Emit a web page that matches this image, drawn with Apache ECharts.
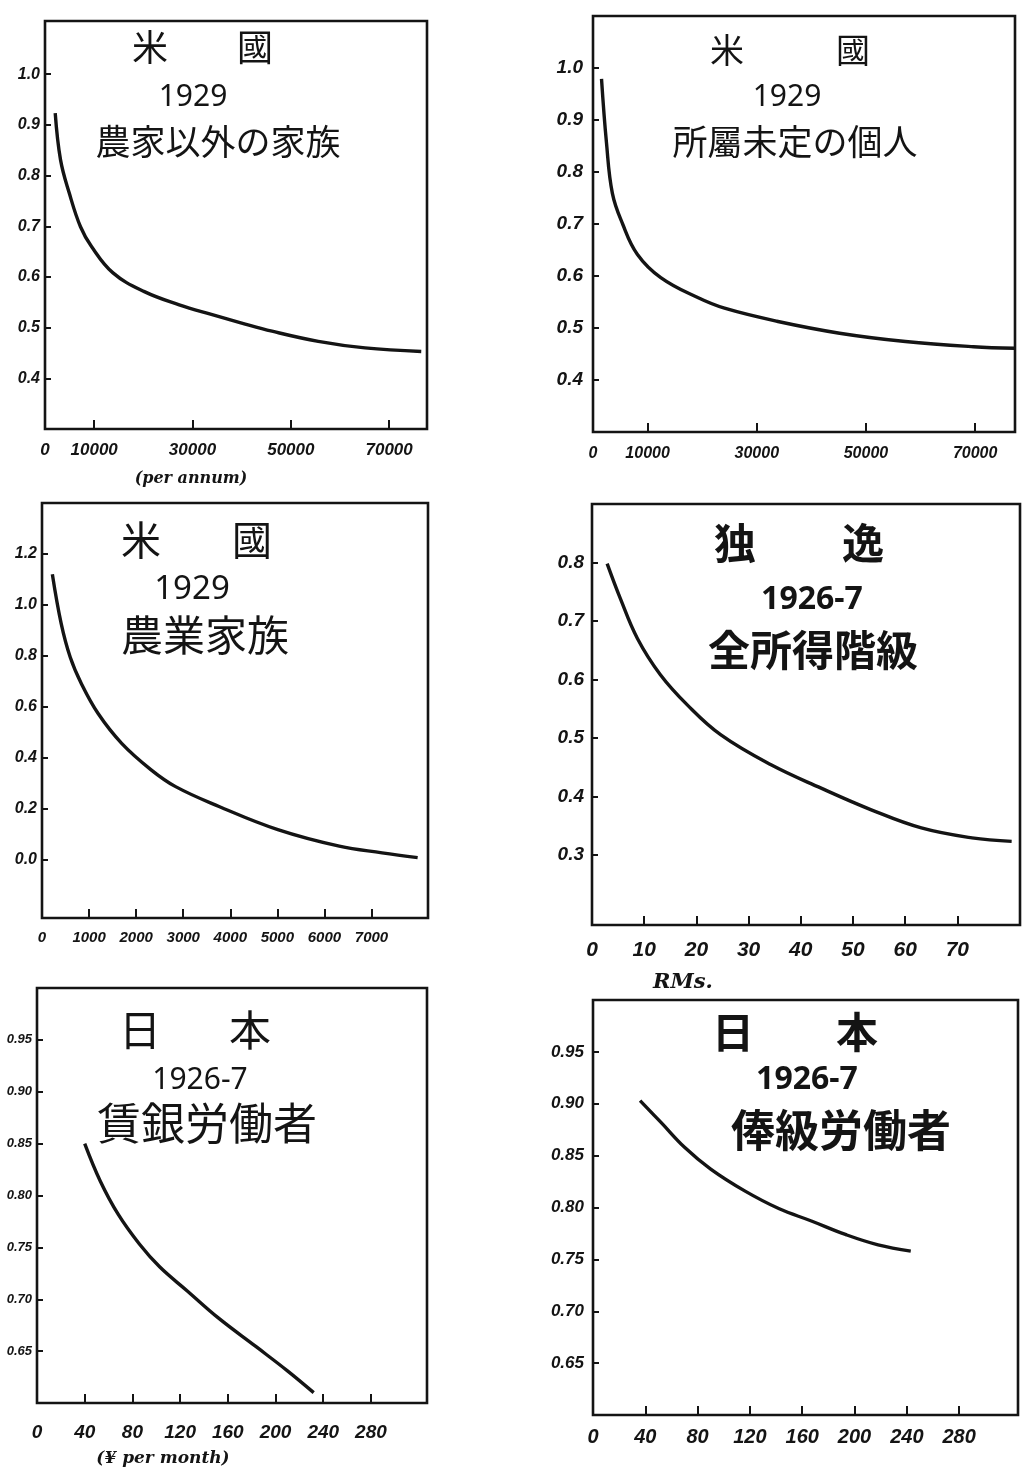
<!DOCTYPE html>
<html><head><meta charset="utf-8">
<script src="https://cdn.jsdelivr.net/npm/echarts@6/dist/echarts.min.js"></script>
<style>html,body{margin:0;padding:0;background:#fff}#c{width:1031px;height:1482px}</style>
</head><body><div id="c"></div>
<script>
// ---- Data ----
// Panel 1: USA 1929, non-farm families (income per annum)
const p1X = [2080, 3160, 4950, 7220, 9460, 13830, 20210, 27300, 33830, 40000, 46170, 55580, 65100, 76530];
const p1Y = [0.923, 0.831, 0.765, 0.699, 0.660, 0.608, 0.571, 0.545, 0.526, 0.509, 0.493, 0.473, 0.460, 0.453];
const p1XTicks = [10000, 30000, 50000, 70000];
const p1XLabels = [0, 10000, 30000, 50000, 70000];
const p1YTicks = [0.4, 0.5, 0.6, 0.7, 0.8, 0.9, 1.0];

// Panel 2: USA 1929, unattached individuals
const p2X = [1560, 2470, 3550, 5430, 8110, 12410, 19280, 24090, 33670, 45170, 57230, 69680, 77160];
const p2Y = [0.979, 0.856, 0.759, 0.700, 0.642, 0.597, 0.558, 0.538, 0.513, 0.490, 0.474, 0.464, 0.461];
const p2XTicks = [10000, 30000, 50000, 70000];
const p2XLabels = [0, 10000, 30000, 50000, 70000];
const p2YTicks = [0.4, 0.5, 0.6, 0.7, 0.8, 0.9, 1.0];

// Panel 3: USA 1929, farm families
const p3X = [220, 409, 600, 837, 1192, 1692, 2318, 2838, 3760, 5010, 6315, 7224, 7980];
const p3Y = [1.120, 0.925, 0.794, 0.690, 0.573, 0.456, 0.352, 0.286, 0.208, 0.117, 0.052, 0.026, 0.007];
const p3XTicks = [1000, 2000, 3000, 4000, 5000, 6000, 7000];
const p3XLabels = [0, 1000, 2000, 3000, 4000, 5000, 6000, 7000];
const p3YTicks = [0.0, 0.2, 0.4, 0.6, 0.8, 1.0, 1.2];

// Panel 4: Germany 1926-7, all income classes (RMs.)
const p4X = [2.9, 5.4, 8.7, 13.1, 18.3, 24.7, 34.3, 43.9, 53.5, 63.1, 72.8, 80.4];
const p4Y = [0.798, 0.739, 0.670, 0.608, 0.556, 0.505, 0.454, 0.414, 0.377, 0.346, 0.329, 0.323];
const p4XTicks = [10, 20, 30, 40, 50, 60, 70];
const p4XLabels = [0, 10, 20, 30, 40, 50, 60, 70];
const p4YTicks = [0.3, 0.4, 0.5, 0.6, 0.7, 0.8];

// Panel 5: Japan 1926-7, wage workers (yen per month)
const p5X = [40, 53, 68, 86, 103, 126, 152, 184, 210, 232];
const p5Y = [0.850, 0.814, 0.782, 0.753, 0.731, 0.708, 0.682, 0.654, 0.631, 0.610];
const p5XTicks = [40, 80, 120, 160, 200, 240, 280];
const p5XLabels = [0, 40, 80, 120, 160, 200, 240, 280];
const p5YTicks = [0.65, 0.70, 0.75, 0.80, 0.85, 0.90, 0.95];

// Panel 6: Japan 1926-7, salaried workers
const p6X = [36, 52, 70, 90, 116, 142, 167, 193, 218, 243];
const p6Y = [0.903, 0.882, 0.858, 0.837, 0.816, 0.799, 0.787, 0.774, 0.764, 0.758];
const p6XTicks = [40, 80, 120, 160, 200, 240, 280];
const p6XLabels = [0, 40, 80, 120, 160, 200, 240, 280];
const p6YTicks = [0.65, 0.70, 0.75, 0.80, 0.85, 0.90, 0.95];

// ---- Layout / style ----
const INK = '#141414';
const LBL = 'Liberation Sans';
const panels = [
  {x:p1X, y:p1Y, xt:p1XTicks, xl:p1XLabels, yt:p1YTicks, yd:1,
   grid:{left:45, top:21, width:382, height:408}, xMin:0, xMax:77700, yMin:0.3, yMax:1.105,
   xFs:17, yFs:16, xMargin:13, yMargin:5},
  {x:p2X, y:p2Y, xt:p2XTicks, xl:p2XLabels, yt:p2YTicks, yd:1,
   grid:{left:593, top:16, width:422, height:416}, xMin:0, xMax:77300, yMin:0.3, yMax:1.1,
   xFs:16, yFs:19, xMargin:14, yMargin:10},
  {x:p3X, y:p3Y, xt:p3XTicks, xl:p3XLabels, yt:p3YTicks, yd:1,
   grid:{left:42, top:503, width:386, height:415}, xMin:0, xMax:8200, yMin:-0.23, yMax:1.4,
   xFs:15, yFs:16, xMargin:12, yMargin:5},
  {x:p4X, y:p4Y, xt:p4XTicks, xl:p4XLabels, yt:p4YTicks, yd:1,
   grid:{left:592, top:504, width:428, height:421}, xMin:0, xMax:82, yMin:0.18, yMax:0.9,
   xFs:21, yFs:19, xMargin:15, yMargin:8},
  {x:p5X, y:p5Y, xt:p5XTicks, xl:p5XLabels, yt:p5YTicks, yd:2,
   grid:{left:37, top:988, width:390, height:415}, xMin:0, xMax:327, yMin:0.6, yMax:1.0,
   xFs:19, yFs:13, xMargin:20, yMargin:5},
  {x:p6X, y:p6Y, xt:p6XTicks, xl:p6XLabels, yt:p6YTicks, yd:2,
   grid:{left:593, top:1000, width:425, height:415}, xMin:0, xMax:325, yMin:0.6, yMax:1.0,
   xFs:20, yFs:17, xMargin:12, yMargin:9}
];

const grid = [], xAxis = [], yAxis = [], series = [];
panels.forEach((p, i) => {
  grid.push(Object.assign({show:true, borderColor:INK, borderWidth:2.6, backgroundColor:'transparent'}, p.grid));
  xAxis.push({
    type:'value', gridIndex:i, min:p.xMin, max:p.xMax,
    axisLine:{show:false, onZero:false}, splitLine:{show:false},
    axisTick:{show:true, inside:true, length:9, customValues:p.xt, lineStyle:{color:INK, width:2}},
    axisLabel:{customValues:p.xl, fontSize:p.xFs, fontStyle:'italic', fontWeight:'bold', fontFamily:LBL,
      color:INK, margin:p.xMargin, formatter:v => String(v)}
  });
  yAxis.push({
    type:'value', gridIndex:i, min:p.yMin, max:p.yMax,
    axisLine:{show:false, onZero:false}, splitLine:{show:false},
    axisTick:{show:true, inside:true, length:6, customValues:p.yt, lineStyle:{color:INK, width:2}},
    axisLabel:{customValues:p.yt, fontSize:p.yFs, fontStyle:'italic', fontWeight:'bold', fontFamily:LBL,
      color:INK, margin:p.yMargin, formatter:v => Number(v).toFixed(p.yd)}
  });
  series.push({
    type:'line', xAxisIndex:i, yAxisIndex:i, showSymbol:false, smooth:0.4, silent:true,
    lineStyle:{color:INK, width:3.4},
    data:p.x.map((xv, k) => [xv, p.y[k]])
  });
});

const CJK = '"Noto Sans CJK JP", "Noto Sans CJK SC", sans-serif';
function txt(s, x, y, size, weight, family, style) {
  return {type:'text', x:x, y:y, silent:true, style:{
    text:s, fill:INK, font:(style||'normal') + ' ' + (weight||'normal') + ' ' + size + 'px ' + (family||CJK),
    align:'center', verticalAlign:'middle', textAlign:'center', textVerticalAlign:'middle'}};
}
const graphic = [
  // Panel 1
  txt('米', 150, 47, 36), txt('國', 255, 47, 36),
  txt('1929', 193, 97, 30, 'normal', '"Noto Sans", sans-serif'),
  txt('農家以外の家族', 218, 142, 35),
  txt('(per annum)', 191, 479, 16, 'bold', '"DejaVu Serif", serif', 'italic'),
  // Panel 2
  txt('米', 727, 50, 34), txt('國', 853, 50, 34),
  txt('1929', 787, 97, 30, 'normal', '"Noto Sans", sans-serif'),
  txt('所屬未定の個人', 795, 142, 35),
  // Panel 3
  txt('米', 141, 540, 40), txt('國', 252, 540, 40),
  txt('1929', 192, 590, 33, 'normal', '"Noto Sans", sans-serif'),
  txt('農業家族', 205, 635, 42),
  // Panel 4
  txt('独', 735, 543, 42, 'bold'), txt('逸', 863, 543, 42, 'bold'),
  txt('1926-7', 812, 600, 32, 'bold', '"Noto Sans", sans-serif'),
  txt('全所得階級', 813, 650, 42, 'bold'),
  txt('RMs.', 683, 983, 21, 'bold', '"DejaVu Serif", serif', 'italic'),
  // Panel 5
  txt('日', 140, 1030, 42), txt('本', 250, 1030, 42),
  txt('1926-7', 200, 1080, 30, 'normal', '"Noto Sans", sans-serif'),
  txt('賃銀労働者', 207, 1123, 44),
  txt('(¥ per month)', 163, 1459, 17, 'bold', '"DejaVu Serif", serif', 'italic'),
  // Panel 6
  txt('日', 733, 1032, 42, 'bold'), txt('本', 857, 1032, 42, 'bold'),
  txt('1926-7', 807, 1080, 32, 'bold', '"Noto Sans", sans-serif'),
  txt('俸級労働者', 841, 1130, 44, 'bold')
];

const chart = echarts.init(document.getElementById('c'), null, {renderer:'canvas'});
chart.setOption({backgroundColor:'#ffffff', animation:false, grid, xAxis, yAxis, series, graphic});
</script>
</body></html>
